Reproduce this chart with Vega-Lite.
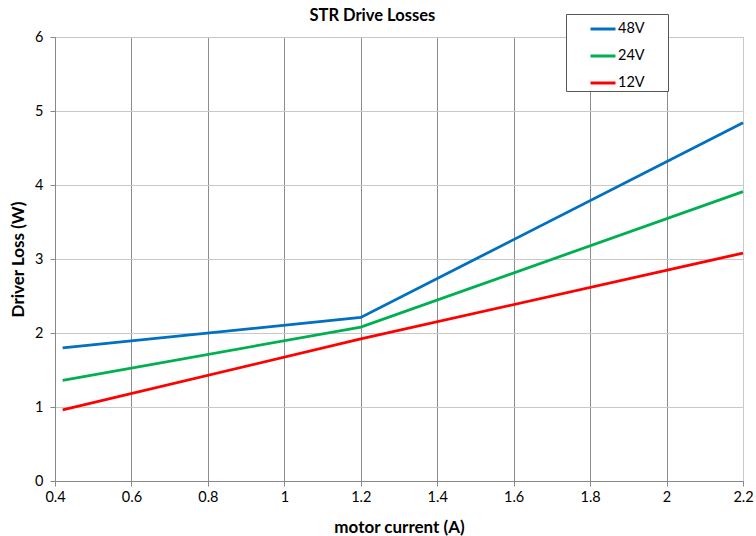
{
  "$schema": "https://vega.github.io/schema/vega-lite/v6.json",
  "autosize": {"type": "none"},
  "width": 688,
  "height": 444,
  "padding": {"left": 55, "top": 37, "right": 13, "bottom": 55},
  "background": "white",
  "config": {
    "font": "Lato",
    "view": {"stroke": "#c8c8c8", "strokeWidth": 1},
    "axis": {"labelFont": "Lato", "titleFont": "Lato", "labelFontSize": 14.5, "labelColor": "#000", "titleColor": "#000", "titleFontSize": 17, "titleFontWeight": "bold", "domainColor": "#888", "tickColor": "#888", "tickSize": 5}
  },
  "title": {"text": "STR Drive Losses", "font": "Lato", "fontSize": 16.5, "fontWeight": "bold", "color": "#000", "anchor": "middle", "frame": "bounds", "offset": -11, "dx": -9},
  "data": {
    "values": [
      {"current": 0.42, "loss": 1.80, "series": "48V"},
      {"current": 1.2, "loss": 2.21, "series": "48V"},
      {"current": 2.2, "loss": 4.84, "series": "48V"},
      {"current": 0.42, "loss": 1.36, "series": "24V"},
      {"current": 1.2, "loss": 2.08, "series": "24V"},
      {"current": 2.2, "loss": 3.91, "series": "24V"},
      {"current": 0.42, "loss": 0.96, "series": "12V"},
      {"current": 1.2, "loss": 1.92, "series": "12V"},
      {"current": 2.2, "loss": 3.08, "series": "12V"}
    ]
  },
  "mark": {"type": "line", "strokeWidth": 2.8},
  "encoding": {
    "x": {
      "field": "current", "type": "quantitative",
      "scale": {"domain": [0.4, 2.2], "nice": false, "zero": false},
      "axis": {"title": "motor current (A)", "values": [0.4, 0.6, 0.8, 1.0, 1.2, 1.4, 1.6, 1.8, 2.0, 2.2], "labelExpr": "datum.value == 1 ? '1' : datum.value == 2 ? '2' : format(datum.value, '.1f')", "gridColor": {"condition": {"test": "datum.value >= 2.19", "value": "#c8c8c8"}, "value": "#8c8c8c"}, "labelPadding": 4, "titlePadding": 16, "labelFlush": false}
    },
    "y": {
      "field": "loss", "type": "quantitative",
      "scale": {"domain": [0, 6], "nice": false},
      "axis": {"title": "Driver Loss (W)", "values": [0, 1, 2, 3, 4, 5, 6], "gridColor": "#c8c8c8", "labelPadding": 7, "titlePadding": 7}
    },
    "color": {
      "field": "series", "type": "nominal",
      "scale": {"domain": ["48V", "24V", "12V"], "range": ["#0070C0", "#00B050", "#FF0000"]},
      "legend": {
        "title": null, "orient": "none", "legendX": 511, "legendY": -23,
        "symbolType": "stroke", "symbolStrokeWidth": 3, "symbolSize": 625,
        "symbolOffset": 22,
        "labelExpr": "datum.label + '\u2800\u2800'",
        "labelFont": "Lato", "labelFontSize": 14.5, "labelColor": "#000",
        "strokeColor": "#555", "fillColor": "white", "padding": 1,
        "rowPadding": 6, "labelOffset": 1
      }
    }
  }
}
